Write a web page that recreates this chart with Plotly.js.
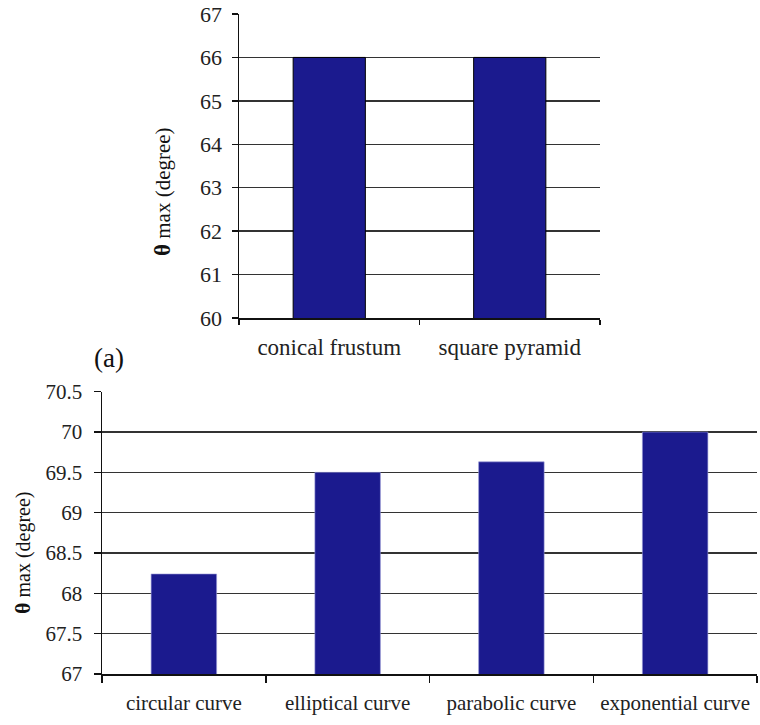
<!DOCTYPE html>
<html>
<head>
<meta charset="utf-8">
<script src="https://cdn.plot.ly/plotly-3.0.1.min.js"></script>
<style>html,body{margin:0;padding:0;background:#fff;}#chart{width:760px;height:725px;}</style>
</head>
<body>
<div id="chart"></div>
<script>
const topCategories = ["conical frustum", "square pyramid"];
const topValues = [66, 66];
const topTicks = [60, 61, 62, 63, 64, 65, 66, 67];

const bottomCategories = ["circular curve", "elliptical curve", "parabolic curve", "exponential curve"];
const bottomValues = [68.24, 69.5, 69.63, 70.0];
const bottomTicks = [67, 67.5, 68, 68.5, 69, 69.5, 70, 70.5];
const bottomTickText = ["67", "67.5", "68", "68.5", "69", "69.5", "70", "70.5"];

const yTitle = "<b><span style='font-size:23px'>θ</span></b> max (degree)";
const panelLabel = "(a)";

const serif = "Liberation Serif";
const barColor = "#1b1a8e";

const traces = [
  {
    type: "bar", x: topCategories, y: topValues, xaxis: "x", yaxis: "y",
    marker: {color: barColor, line: {color: "#000", width: 1}},
    hoverinfo: "none"
  },
  {
    type: "bar", x: bottomCategories, y: bottomValues, xaxis: "x2", yaxis: "y2",
    marker: {color: barColor, line: {color: "#9a9ad6", width: 0.6}},
    hoverinfo: "none"
  }
];

const topTickFont = {family: serif, size: 22, color: "#222"};
const topCatFont = {family: serif, size: 23, color: "#222"};
const botTickFont = {family: serif, size: 21, color: "#222"};
const botCatFont = {family: serif, size: 21, color: "#222"};

const layout = {
  width: 760, height: 725,
  margin: {l: 0, r: 0, t: 0, b: 0},
  paper_bgcolor: "#fff", plot_bgcolor: "#fff",
  showlegend: false,
  bargap: 0.6,
  font: {family: serif, color: "#222"},
  xaxis: {
    domain: [239/760, 600/760], anchor: "y",
    type: "category",
    showline: true, linecolor: "#111", linewidth: 1.5,
    ticks: "outside", ticklen: 5, tickcolor: "#111", tickwidth: 1.5,
    tickson: "boundaries",
    showgrid: false, zeroline: false,
    tickfont: topCatFont, ticklabelstandoff: 8
  },
  yaxis: {
    domain: [1 - 318/725, 1 - 14/725], anchor: "x",
    range: [60, 67],
    tickvals: topTicks,
    showline: true, linecolor: "#111", linewidth: 1.5,
    ticks: "outside", ticklen: 6, tickcolor: "#111", tickwidth: 1.5,
    showgrid: true, gridcolor: "#333", gridwidth: 1.5,
    zeroline: false,
    tickfont: topTickFont, ticklabelstandoff: 5
  },
  xaxis2: {
    domain: [102/760, 757/760], anchor: "y2",
    type: "category",
    showline: true, linecolor: "#111", linewidth: 1.5,
    ticks: "outside", ticklen: 7, tickcolor: "#111", tickwidth: 1.5,
    tickson: "boundaries",
    showgrid: false, zeroline: false,
    tickfont: botCatFont, ticklabelstandoff: 9
  },
  yaxis2: {
    domain: [1 - 674/725, 1 - 391.7/725], anchor: "x2",
    range: [67, 70.5],
    tickvals: bottomTicks, ticktext: bottomTickText,
    showline: true, linecolor: "#111", linewidth: 1.5,
    ticks: "outside", ticklen: 7, tickcolor: "#111", tickwidth: 1.5,
    showgrid: true, gridcolor: "#333", gridwidth: 1.5,
    zeroline: false,
    tickfont: botTickFont, ticklabelstandoff: 7
  },
  annotations: [
    {
      text: yTitle, xref: "paper", yref: "paper",
      x: 163/760, y: 1 - 192/725, textangle: -90, showarrow: false,
      xanchor: "center", yanchor: "middle",
      font: {family: serif, size: 21, color: "#111"}
    },
    {
      text: yTitle.replace("23px", "22px"), xref: "paper", yref: "paper",
      x: 22/760, y: 1 - 553/725, textangle: -90, showarrow: false,
      xanchor: "center", yanchor: "middle",
      font: {family: serif, size: 20, color: "#111"}
    },
    {
      text: panelLabel, xref: "paper", yref: "paper",
      x: 109/760, y: 1 - 358/725, showarrow: false,
      xanchor: "center", yanchor: "middle",
      font: {family: serif, size: 27, color: "#111"}
    }
  ]
};

Plotly.newPlot("chart", traces, layout, {displayModeBar: false, staticPlot: true});
</script>
</body>
</html>
